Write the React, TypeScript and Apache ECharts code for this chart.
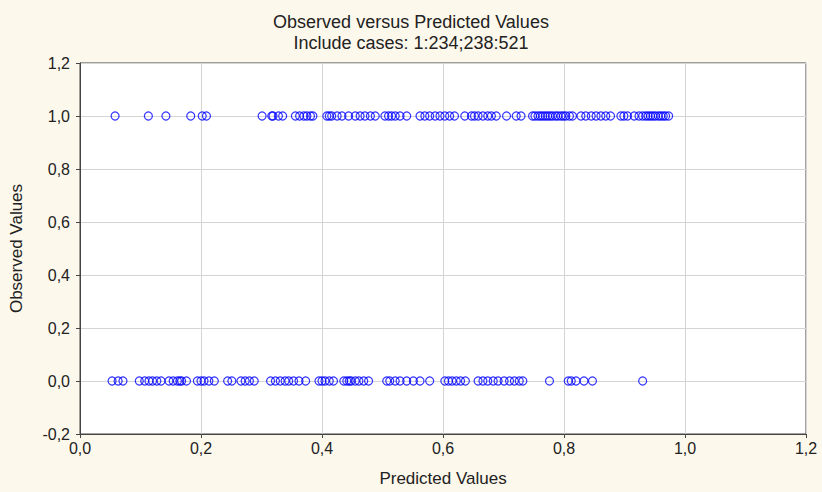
import React, { useEffect, useRef } from "react";
import * as echarts from "echarts";

const titleText = "Observed versus Predicted Values";
const subtitleText = "Include cases: 1:234;238:521";
const xAxisName = "Predicted Values";
const yAxisName = "Observed Values";

const predictedObs1: number[] = [
  0.058, 0.113, 0.142, 0.183, 0.202, 0.209, 0.301, 0.317, 0.319, 0.328, 0.335,
  0.356, 0.363, 0.370, 0.375, 0.381, 0.385, 0.408, 0.412, 0.416, 0.425, 0.433,
  0.444, 0.455, 0.463, 0.471, 0.480, 0.488, 0.504, 0.510, 0.515, 0.521, 0.529,
  0.540, 0.562, 0.570, 0.578, 0.587, 0.595, 0.603, 0.611, 0.619, 0.636, 0.647,
  0.652, 0.658, 0.666, 0.674, 0.680, 0.688, 0.705, 0.721, 0.729, 0.748, 0.752,
  0.757, 0.761, 0.765, 0.769, 0.773, 0.777, 0.781, 0.786, 0.790, 0.795, 0.799,
  0.803, 0.809, 0.814, 0.828, 0.836, 0.845, 0.853, 0.861, 0.869, 0.877, 0.894,
  0.899, 0.905, 0.916, 0.924, 0.930, 0.935, 0.939, 0.943, 0.947, 0.951, 0.956,
  0.960, 0.964, 0.968, 0.973,
];

const predictedObs0: number[] = [
  0.053, 0.063, 0.071, 0.098, 0.107, 0.114, 0.120, 0.127, 0.134, 0.147, 0.154,
  0.161, 0.165, 0.168, 0.176, 0.194, 0.200, 0.205, 0.213, 0.222, 0.244, 0.251,
  0.266, 0.273, 0.280, 0.288, 0.315, 0.323, 0.331, 0.339, 0.345, 0.353, 0.362,
  0.373, 0.395, 0.400, 0.405, 0.412, 0.419, 0.436, 0.441, 0.445, 0.448, 0.455,
  0.461, 0.469, 0.477, 0.507, 0.512, 0.521, 0.529, 0.540, 0.551, 0.562, 0.578,
  0.603, 0.609, 0.615, 0.622, 0.629, 0.637, 0.658, 0.666, 0.674, 0.683, 0.691,
  0.701, 0.710, 0.718, 0.726, 0.732, 0.776, 0.807, 0.812, 0.820, 0.833, 0.847,
  0.930,
];

const observedValues = [1, 0];

const fmt = (v: number) => v.toFixed(1).replace(".", ",");

export default function App() {
  const ref = useRef<HTMLDivElement>(null);
  useEffect(() => {
    if (!ref.current) return;
    const chart = echarts.init(ref.current, undefined, { renderer: "svg" });
    const textColor = "#222";
    const font = "'Liberation Sans', Arial, sans-serif";
    const seriesData = [predictedObs1, predictedObs0];
    chart.setOption({
      animation: false,
      backgroundColor: "#fdf8ec",
      textStyle: { fontFamily: font },
      title: [
        {
          text: titleText,
          left: "center",
          top: 8,
          textStyle: { fontSize: 18, fontWeight: "normal", color: textColor, fontFamily: font },
        },
        {
          text: subtitleText,
          left: "center",
          top: 29,
          textStyle: { fontSize: 18, fontWeight: "normal", color: textColor, fontFamily: font },
        },
      ],
      grid: {
        left: 77,
        right: 16,
        top: 63,
        bottom: 58,
        show: true,
        backgroundColor: "#ffffff",
        borderColor: "#444",
        borderWidth: 1,
      },
      xAxis: {
        type: "value",
        min: 0,
        max: 1.2,
        interval: 0.2,
        name: xAxisName,
        nameLocation: "middle",
        nameGap: 36,
        nameTextStyle: { fontSize: 17, color: textColor, fontFamily: font },
        axisLine: { show: true, onZero: false, lineStyle: { color: "#444" } },
        axisTick: { show: true, length: 4, lineStyle: { color: "#444" } },
        axisLabel: { formatter: fmt, fontSize: 16, color: textColor, margin: 6, fontFamily: font },
        splitLine: { show: true, lineStyle: { color: "#d4d4d4" } },
      },
      yAxis: {
        type: "value",
        min: -0.2,
        max: 1.2,
        interval: 0.2,
        name: yAxisName,
        nameLocation: "middle",
        nameGap: 55,
        nameTextStyle: { fontSize: 17, color: textColor, fontFamily: font },
        axisLine: { show: true, onZero: false, lineStyle: { color: "#444" } },
        axisTick: { show: true, length: 4, lineStyle: { color: "#444" } },
        axisLabel: { formatter: fmt, fontSize: 16, color: textColor, margin: 10, fontFamily: font },
        splitLine: { show: true, lineStyle: { color: "#d4d4d4" } },
      },
      series: observedValues.map((obs, i) => ({
        type: "scatter",
        symbol: "circle",
        symbolSize: 8,
        itemStyle: { color: "rgba(0,0,0,0)", borderColor: "#0000ff", borderWidth: 1.2 },
        data: seriesData[i].map((p) => [p, obs]),
      })),
    });
    return () => chart.dispose();
  }, []);
  return (
    <div
      ref={ref}
      style={{ position: "absolute", left: 0, top: 0, width: 822, height: 492 }}
    />
  );
}
